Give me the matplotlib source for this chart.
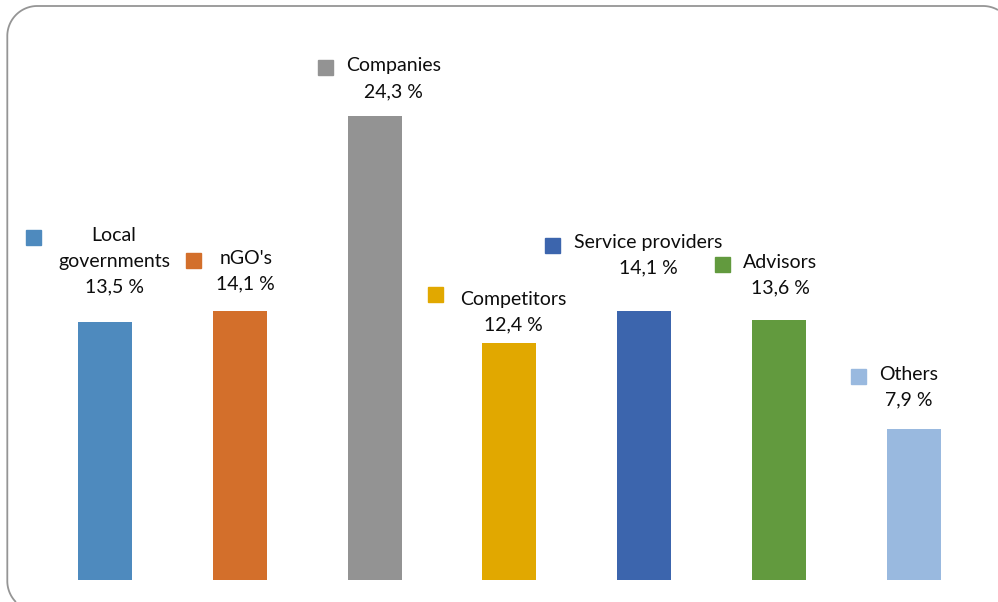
import matplotlib
matplotlib.use('Agg')
import numpy as np
import matplotlib.pyplot as plt
from matplotlib.lines import Line2D
from matplotlib.transforms import IdentityTransform, offset_copy

plt.rcParams['font.family'] = ['Lato', 'DejaVu Sans']

# Share of respondents by stakeholder group (%)
groups = ['Local\ngovernments', "nGO's", 'Companies', 'Competitors',
          'Service providers', 'Advisors', 'Others']
shares = [13.5, 14.1, 24.3, 12.4, 14.1, 13.6, 7.9]
colors = ['#4E8ABE', '#D36F2B', '#939393', '#E1A800',
          '#3C65AD', '#629A3E', '#99B9DF']

# label layout, in pixels relative to the top centre of each bar
text_dx = [9, 6, 19, 4, 4, 1, -5]
value_dy = [30, 21, 19, 13, 37, 27, 24]
key_dx = [-72.5, -47, -49.7, -74.5, -92.5, -57.5, -55.4]
key_dy = [85, 50.3, 49, 49.5, 66, 56.4, 53.5]
line_step = 25.5

W, H = 998, 602
fig = plt.figure(figsize=(W / 100, H / 100), dpi=100)
ax = fig.add_axes([0.03768, 0.03654, 0.9455, 0.8566])

x = list(range(len(shares)))
ax.bar(x, shares, width=0.4, color=colors)
ax.set_xlim(-0.5, 6.5)
ax.set_ylim(0, 27)
ax.axis('off')

for i, (name, v) in enumerate(zip(groups, shares)):
    lines = name.split('\n') + [f'{v:.1f} %'.replace('.', ',')]
    n = len(lines)
    for k, line in enumerate(lines):
        dy = value_dy[i] + (n - 1 - k) * line_step
        ax.annotate(line, xy=(i, v), xytext=(text_dx[i], dy),
                    textcoords='offset pixels', ha='center', va='baseline',
                    fontsize=14, color='#0d0d0d')
    tr = offset_copy(ax.transData, fig=fig, x=key_dx[i], y=key_dy[i], units='dots')
    ax.plot([i], [v], marker='s', markersize=10.8, color=colors[i],
            linestyle='none', transform=tr, clip_on=False)

# rounded frame (pixel coords, y downwards); it runs off the right and bottom edges
r = 30
left, top = 7.3, 6.0
def arc(cx, cy, a0, a1):
    a = np.radians(np.linspace(a0, a1, 40))
    return cx + r * np.cos(a), cy - r * np.sin(a)

bl_x, bl_y = arc(left + r, 581, -135.5, -180)
tl_x, tl_y = arc(left + r, top + r, 180, 90)
tr_x, tr_y = arc(983, top + r, 90, 60)
fx = np.concatenate([bl_x, tl_x, tr_x])
fy = np.concatenate([bl_y, tl_y, tr_y])
fig.add_artist(Line2D(fx, H - fy, transform=IdentityTransform(),
                      color='#959595', linewidth=1.3,
                      solid_joinstyle='round', solid_capstyle='butt'))

fig.savefig('out.png', dpi=100)
